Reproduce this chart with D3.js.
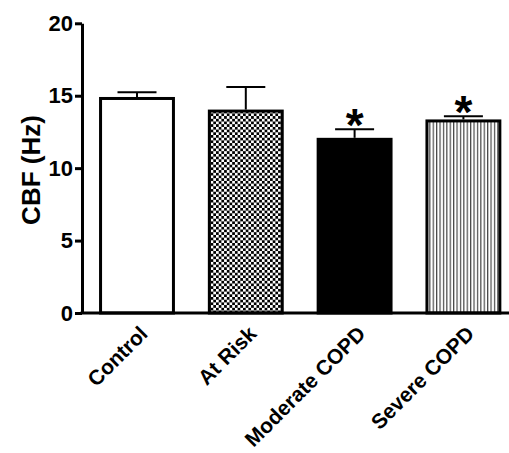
<!DOCTYPE html>
<html>
<head>
<meta charset="utf-8">
<script src="https://cdn.jsdelivr.net/npm/d3@7"></script>
<style>
  body { margin: 0; background: #fff; }
  svg { display: block; font-family: "Liberation Sans", Arial, sans-serif; font-weight: bold; }
</style>
</head>
<body>
<svg id="chart"></svg>
<script>
const groups = ["Control", "At Risk", "Moderate COPD", "Severe COPD"];
const means = [14.81, 13.94, 11.99, 13.26];
const errTops = [15.24, 15.6, 12.69, 13.59];
const signif = [false, false, true, true];
const yTicks = [0, 5, 10, 15, 20];
const fills = ["#fff", "url(#checker)", "#000", "url(#stripes)"];

const width = 509, height = 453;
const svg = d3.select("#chart").attr("width", width).attr("height", height);

const defs = svg.append("defs");
const checker = defs.append("pattern")
  .attr("id", "checker").attr("patternUnits", "userSpaceOnUse")
  .attr("width", 5.4).attr("height", 5.4);
checker.append("rect").attr("width", 5.4).attr("height", 5.4).attr("fill", "#fff");
checker.append("rect").attr("width", 2.7).attr("height", 2.7).attr("fill", "#000");
checker.append("rect").attr("x", 2.7).attr("y", 2.7).attr("width", 2.7).attr("height", 2.7).attr("fill", "#000");

const stripes = defs.append("pattern")
  .attr("id", "stripes").attr("patternUnits", "userSpaceOnUse")
  .attr("width", 3.4).attr("height", 10);
stripes.append("rect").attr("width", 3.4).attr("height", 10).attr("fill", "#fff");
stripes.append("rect").attr("x", 1).attr("width", 1).attr("height", 10).attr("fill", "#222");

const axisX = 82, baseY = 313;
const x = d3.scaleBand().domain(groups).range([82.6, 517.8])
  .paddingInner(0.33).paddingOuter(0.165);
const y = d3.scaleLinear().domain([0, 20]).range([baseY, 23.3]);

// bars
svg.selectAll("rect.bar").data(groups).join("rect")
  .attr("class", "bar")
  .attr("x", d => x(d))
  .attr("width", x.bandwidth())
  .attr("y", (d, i) => y(means[i]))
  .attr("height", (d, i) => y(0) - y(means[i]))
  .attr("fill", (d, i) => fills[i])
  .attr("stroke", "#000")
  .attr("stroke-width", 3);

// error bars (upper only)
const capW = 39;
const eb = svg.append("g").attr("stroke", "#000").attr("stroke-width", 2);
groups.forEach((g, i) => {
  const cx = x(g) + x.bandwidth() / 2;
  eb.append("line").attr("x1", cx).attr("x2", cx)
    .attr("y1", y(means[i]) - 1.5).attr("y2", y(errTops[i]));
  eb.append("line").attr("x1", cx - capW / 2).attr("x2", cx + capW / 2)
    .attr("y1", y(errTops[i])).attr("y2", y(errTops[i]));
  if (signif[i]) {
    svg.append("text").attr("x", cx).attr("y", y(errTops[i]) + 12)
      .attr("text-anchor", "middle").attr("font-size", 46).text("*");
  }
});

// y axis
const yAxis = d3.axisLeft(y).tickValues(yTicks).tickSize(7).tickSizeOuter(0).tickPadding(2);
const gy = svg.append("g").attr("transform", `translate(${axisX},0)`).call(yAxis)
  .attr("font-family", null).attr("font-size", 22);
gy.select(".domain").attr("stroke-width", 3);
gy.selectAll(".tick line").attr("stroke-width", 3);
gy.selectAll(".tick text").attr("fill", "#000");

// x axis baseline
svg.append("line").attr("x1", axisX - 1.5).attr("x2", width).attr("y1", baseY).attr("y2", baseY)
  .attr("stroke", "#000").attr("stroke-width", 3);

// category labels
svg.selectAll("text.cat").data(groups).join("text")
  .attr("class", "cat")
  .attr("text-anchor", "end")
  .attr("font-size", 21)
  .attr("transform", d => `translate(${x(d) + x.bandwidth() / 2 + 12},${baseY + 22}) rotate(-45)`)
  .text(d => d);

// y label
svg.append("text")
  .attr("transform", `translate(40,170) rotate(-90)`)
  .attr("text-anchor", "middle").attr("font-size", 26)
  .text("CBF (Hz)");
</script>
</body>
</html>
